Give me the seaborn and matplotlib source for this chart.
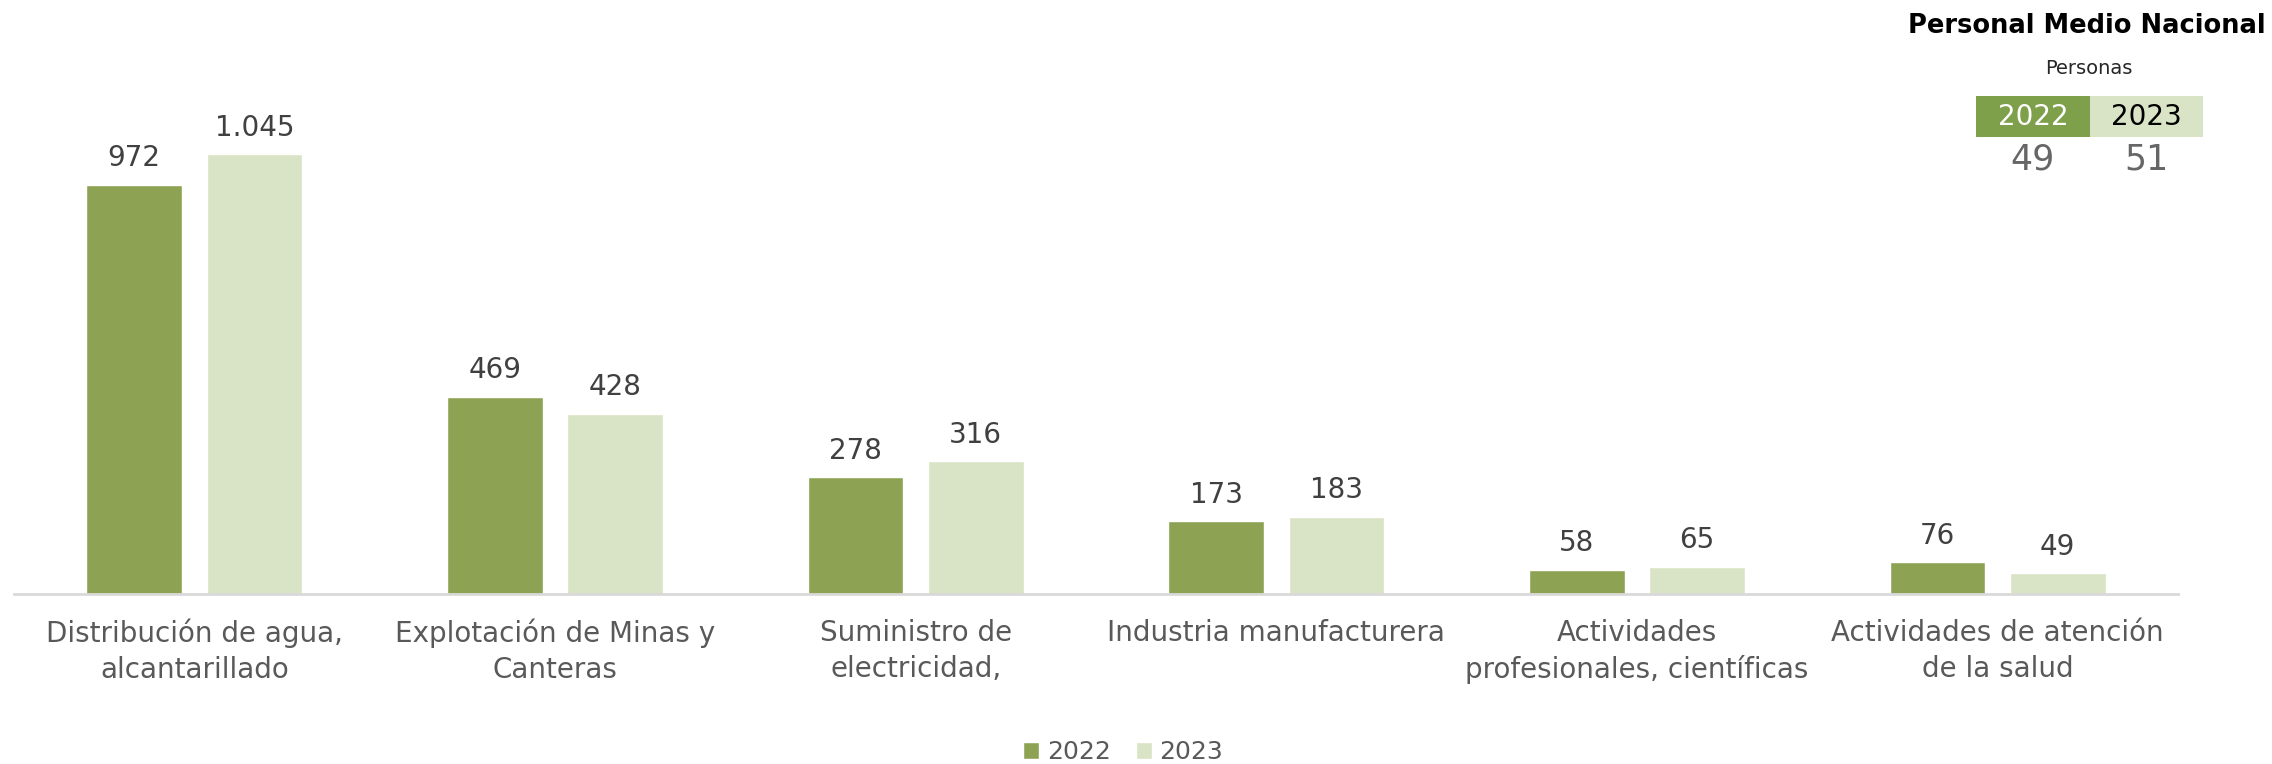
import matplotlib
matplotlib.use("Agg")
import matplotlib.pyplot as plt
from matplotlib.patches import Rectangle
import seaborn as sns
import pandas as pd

# --- data -------------------------------------------------------------
categories = [
    "Distribución de agua,\nalcantarillado",
    "Explotación de Minas y\nCanteras",
    "Suministro de\nelectricidad,",
    "Industria manufacturera",
    "Actividades\nprofesionales, científicas",
    "Actividades de atención\nde la salud",
]
years = ["2022", "2023"]
values_2022 = [972, 469, 278, 173, 58, 76]
values_2023 = [1045, 428, 316, 183, 65, 49]

national_years = ["2022", "2023"]
national_values = [49, 51]

# --- styling ----------------------------------------------------------
DARK = "#8da353"
LIGHT = "#d9e3c5"
BOX_DARK = "#7fa04a"
VALUE_COLOR = "#404040"
CAT_COLOR = "#595959"

sns.set_theme(style="white")
plt.rcParams["font.family"] = ["DejaVu Sans"]

df = pd.DataFrame({
    "categoria": categories * 2,
    "anio": [years[0]] * len(categories) + [years[1]] * len(categories),
    "valor": values_2022 + values_2023,
})

fig = plt.figure(figsize=(22.72, 7.64), dpi=100)
ax = fig.add_axes([14 / 2272, (764 - 594) / 764, 2164 / 2272, 494 / 764])

sns.barplot(
    data=df, x="categoria", y="valor", hue="anio", order=categories,
    hue_order=years, palette=[DARK, LIGHT], width=0.667, gap=0.205,
    saturation=1, ax=ax, errorbar=None,
)

ax.set_xlim(-0.5, len(categories) - 0.5)
ax.set_ylim(0, 1174)
ax.set_xlabel("")
ax.set_ylabel("")
ax.set_yticks([])
for side in ["top", "right", "left"]:
    ax.spines[side].set_visible(False)
ax.spines["bottom"].set_color("#d9d9d9")
ax.spines["bottom"].set_linewidth(2)
ax.tick_params(axis="x", length=0, pad=18, labelsize=20, labelcolor=CAT_COLOR)
for lbl in ax.get_xticklabels():
    lbl.set_linespacing(1.35)


def fmt(v):
    return f"{v:,}".replace(",", ".")


for cont, vals in zip(ax.containers, [values_2022, values_2023]):
    ax.bar_label(cont, labels=[fmt(v) for v in vals], padding=9,
                 fontsize=20, color=VALUE_COLOR)

handles, labels = ax.get_legend_handles_labels()
ax.get_legend().remove()
fig.legend(handles, labels, loc="center", bbox_to_anchor=(1123 / 2272, 1 - 752 / 764),
           ncol=2, frameon=False, fontsize=18, handlelength=0.65, handleheight=0.65,
           handletextpad=0.3, columnspacing=1.0, labelcolor=CAT_COLOR)

# --- national average panel (top right) -------------------------------
W, H = 2272, 764


def fx(px):
    return px / W


def fy(py):
    return 1 - py / H


fig.text(fx(2266), fy(26), "Personal Medio Nacional", ha="right", va="center",
         fontsize=18.5, fontweight="bold", color="black")
fig.text(fx(2089), fy(68), "Personas", ha="center", va="center",
         fontsize=14, color="#262626")

cells = [(1976, 2090, BOX_DARK, "white"), (2090, 2203, LIGHT, "black")]
for (x0, x1, fc, tc), yr, val in zip(cells, national_years, national_values):
    fig.patches.append(Rectangle((fx(x0), fy(137)), fx(x1) - fx(x0), fy(96) - fy(137),
                                 transform=fig.transFigure, facecolor=fc,
                                 edgecolor="none"))
    cx = fx((x0 + x1) / 2)
    fig.text(cx, fy(117), yr, ha="center", va="center", fontsize=20, color=tc)
    fig.text(cx, fy(160), str(val), ha="center", va="center", fontsize=25,
             color="#666666")

fig.savefig("out.png", dpi=100, facecolor="white")
